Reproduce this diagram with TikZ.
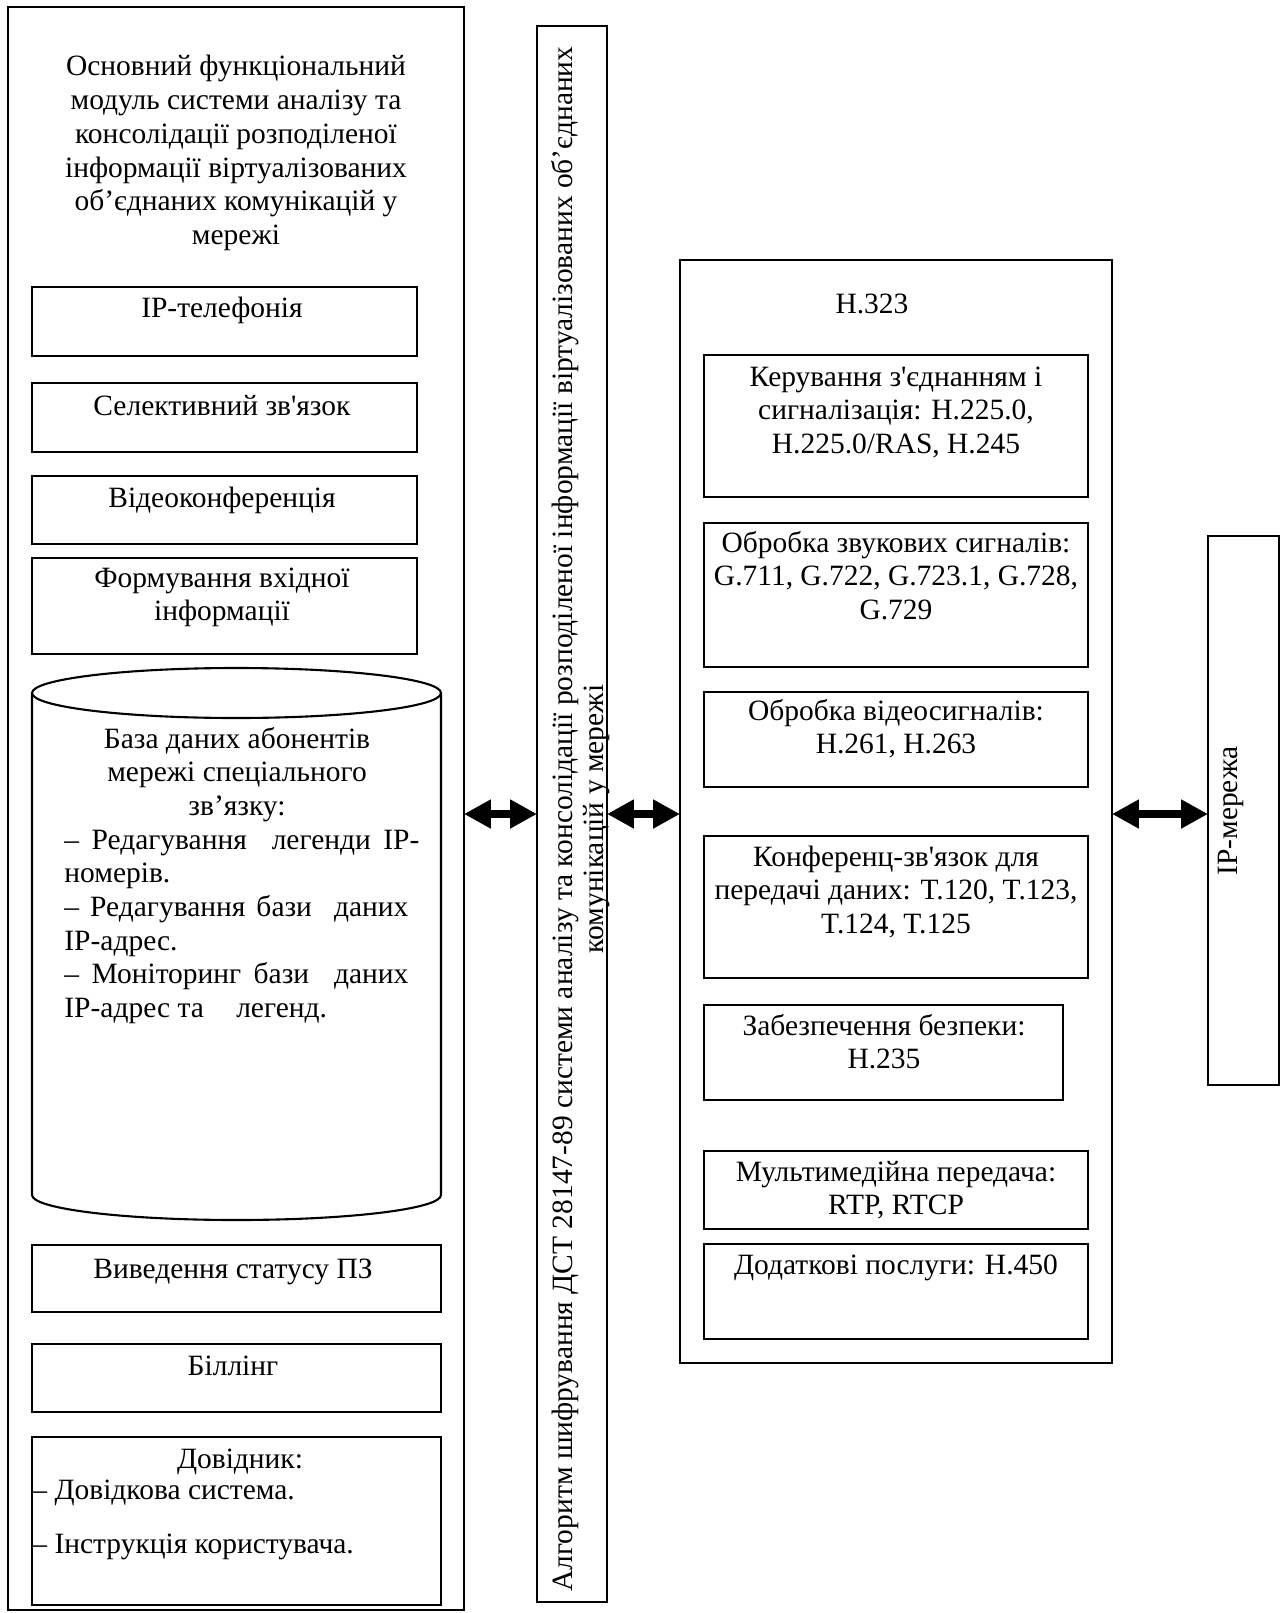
\documentclass[tikz,border=0pt]{standalone}
\usepackage{fontspec}
\setmainfont{Liberation Serif}
\usetikzlibrary{arrows.meta}
\newcommand\fs{\fontsize{14pt}{16pt}\selectfont}
\newcommand\fsr{\fontsize{14pt}{14.7pt}\selectfont}
\newcommand\ap{\textquotesingle}
\newcommand\rbox[5]{\node[bx, minimum width={(#4-#2)*0.475pt}, minimum height={(#5-#3)*0.475pt}] (#1) at ({(#2+#4)/2},{(#3+#5)/2}) {};}
\newcommand\tl[4]{\node[txt] (#1) at ({#2},{#3-14}) {\strut #4};}
\begin{document}
\begin{tikzpicture}[x=0.475pt, y=-0.475pt,
  bx/.style={draw, line width=1pt, inner sep=0pt, outer sep=0pt},
  txt/.style={anchor=north, inner sep=0pt, font=\fs, align=center},
  dbl/.style={{Triangle[length=12.8pt,width=13pt]}-{Triangle[length=12.8pt,width=13pt]}, line width=4pt}]
\useasboundingbox (0,0) rectangle (1286,1613);

% main frames
\rbox{L}{8}{7}{464}{1610}
\rbox{M}{537}{26}{607}{1602}
\rbox{H}{680}{260}{1112}{1363}
\rbox{N}{1208}{536}{1279}{1085}

% left column boxes
\rbox{ip}{32}{287}{417}{356}
\rbox{sel}{32}{383}{417}{452}
\rbox{vid}{32}{476}{417}{544}
\rbox{form}{32}{558}{417}{654}
\rbox{vyv}{32}{1245}{441}{1312}
\rbox{bil}{32}{1344}{441}{1412}
\rbox{dov}{32}{1437}{441}{1605}

% cylinder
\coordinate (cyl) at (236.5,693);
\draw[line width=1pt] (cyl) ellipse [x radius=97.14pt, y radius=11.875pt];
\draw[line width=1pt] (32,693) -- (32,1195) arc[start angle=180, end angle=360, x radius=97.14pt, y radius=11.875pt] -- (441,693);

% right column boxes
\rbox{ker}{704}{355}{1088}{497}
\rbox{zvuk}{704}{523}{1088}{667}
\rbox{vsig}{704}{692}{1088}{787}
\rbox{konf}{704}{836}{1088}{978}
\rbox{bezp}{704}{1005}{1063}{1100}
\rbox{mult}{704}{1151}{1088}{1229}
\rbox{dod}{704}{1244}{1088}{1339}

% texts left
\tl{title}{236}{66}{Основний функціональний\\модуль системи аналізу та\\консолідації розподіленої\\інформації віртуалізованих\\об’єднаних комунікацій у\\мережі}
\tl{tip}{222}{308}{IP-телефонія}
\tl{tsel}{222}{405}{Селективний зв\ap язок}
\tl{tvid}{222}{497}{Відеоконференція}
\tl{tform}{222}{577}{Формування вхідної\\інформації}
\tl{tcyl}{237}{738}{База даних абонентів\\мережі спеціального\\зв’язку:}
\node[txt, anchor=north west, align=left] (tcyll) at (64,{839-14}) {\strut\makebox[168.6pt][s]{– Редагування\ \ легенди IP-}\\номерів.\\\makebox[163.4pt][s]{– Редагування бази\ \ даних}\\IP-адрес.\\\makebox[163.4pt][s]{– Моніторинг бази\ \ даних}\\IP-адрес та\hspace{1.1em}легенд.};
\tl{tvyv}{233}{1268}{Виведення статусу ПЗ}
\tl{tbil}{233}{1365}{Біллінг}
\tl{tdov}{240}{1458}{Довідник:}
\node[txt, anchor=north west] (tdov1) at (32,{1489-14}) {\strut – Довідкова система.};
\node[txt, anchor=north west] (tdov2) at (32,{1543-14}) {\strut – Інструкція користувача.};

% middle rotated text
\node[font=\fsr, rotate=90, align=center, inner sep=0pt] (talg) at (581,819) {Алгоритм шифрування ДСТ 28147-89 системи аналізу та консолідації розподіленої інформації віртуалізованих об’єднаних\\комунікацій у мережі};

% right texts
\tl{th}{872}{303}{H.323}
\tl{tker}{896}{376}{Керування з\ap єднанням і\\сигналізація: H.225.0,\\H.225.0/RAS, H.245}
\tl{tzvuk}{896}{542}{Обробка звукових сигналів:\\G.711, G.722, G.723.1, G.728,\\G.729}
\tl{tvsig}{896}{710}{Обробка відеосигналів:\\H.261, H.263}
\tl{tkonf}{896}{856}{Конференц-зв\ap язок для\\передачі даних: T.120, T.123,\\T.124, T.125}
\tl{tbezp}{884}{1025}{Забезпечення безпеки:\\H.235}
\tl{tmult}{896}{1171}{Мультимедійна передача:\\RTP, RTCP}
\tl{tdod}{896}{1264}{Додаткові послуги: H.450}

\node[font=\fs, rotate=90, inner sep=0pt] (tnet) at (1231,811) {IP-мережа};

% arrows
\coordinate (ay) at (0,814);
\draw[dbl] (L.east |- ay) -- (M.west |- ay);
\draw[dbl] (M.east |- ay) -- (H.west |- ay);
\draw[dbl] (H.east |- ay) -- (N.west |- ay);
\end{tikzpicture}
\end{document}
